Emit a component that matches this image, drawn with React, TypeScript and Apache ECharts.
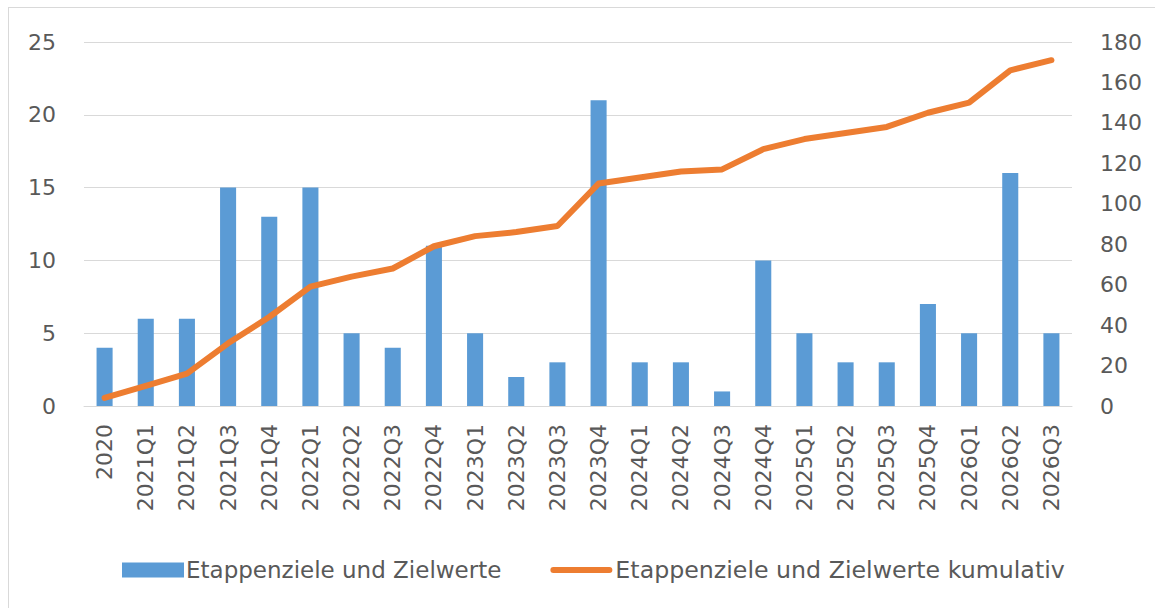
import React, { useEffect, useRef } from "react";
import * as echarts from "echarts";

const categories = [
  "2020", "2021Q1", "2021Q2", "2021Q3", "2021Q4", "2022Q1", "2022Q2", "2022Q3",
  "2022Q4", "2023Q1", "2023Q2", "2023Q3", "2023Q4", "2024Q1", "2024Q2", "2024Q3",
  "2024Q4", "2025Q1", "2025Q2", "2025Q3", "2025Q4", "2026Q1", "2026Q2", "2026Q3",
];
const barValues = [4, 6, 6, 15, 13, 15, 5, 4, 11, 5, 2, 3, 21, 3, 3, 1, 10, 5, 3, 3, 7, 5, 16, 5];
const cumulativeValues = [4, 10, 16, 31, 44, 59, 64, 68, 79, 84, 86, 89, 110, 113, 116, 117, 127, 132, 135, 138, 145, 150, 166, 171];
const barName = "Etappenziele und Zielwerte";
const lineName = "Etappenziele und Zielwerte kumulativ";

const FONT = "'DejaVu Sans', sans-serif";
const TXT = "#595959";
const LINE_ICON =
  "path://M0,0L0.05,0L0.05,0.05Z M3,4.5L59,4.5A3,3 0 0 1 59,10.5L3,10.5A3,3 0 0 1 3,4.5Z M62,15L61.95,15L61.95,14.95Z";

export default function App() {
  const ref = useRef<HTMLDivElement>(null);
  useEffect(() => {
    const chart = echarts.init(ref.current!, null, { renderer: "svg" });
    chart.setOption({
      animation: false,
      textStyle: { fontFamily: FONT },
      grid: { left: 84, right: 83, top: 42, bottom: 202, containLabel: false },
      legend: {
        top: 553,
        left: 117,
        itemGap: 49,
        itemWidth: 62,
        itemHeight: 15,
        textStyle: { fontSize: 23, color: TXT, fontFamily: FONT, padding: [0, 0, 0, -3] },
        data: [
          { name: barName, icon: "rect" },
          {
            name: lineName,
            icon: LINE_ICON,
            itemStyle: { color: "#ED7D31" },
            textStyle: { fontSize: 23.7, color: TXT, fontFamily: FONT, padding: [0, 0, 0, -2] },
          },
        ],
      },
      xAxis: {
        type: "category",
        data: categories,
        axisLine: { show: true, lineStyle: { color: "#D9D9D9", width: 1 } },
        axisTick: { show: false },
        axisLabel: { rotate: 90, fontSize: 22, color: TXT, margin: 18, interval: 0 },
      },
      yAxis: [
        {
          type: "value",
          min: 0,
          max: 25,
          interval: 5,
          axisLine: { show: false },
          axisTick: { show: false },
          splitLine: { lineStyle: { color: "#D9D9D9", width: 1 } },
          axisLabel: { fontSize: 22, color: TXT, margin: 28 },
        },
        {
          type: "value",
          min: 0,
          max: 180,
          interval: 20,
          axisLine: { show: false },
          axisTick: { show: false },
          splitLine: { show: false },
          axisLabel: { fontSize: 22, color: TXT, margin: 28 },
        },
      ],
      series: [
        {
          name: barName,
          type: "bar",
          data: barValues,
          barWidth: "39%",
          itemStyle: { color: "#5B9BD5" },
          yAxisIndex: 0,
        },
        {
          name: lineName,
          type: "line",
          data: cumulativeValues,
          yAxisIndex: 1,
          symbol: "none",
          lineStyle: { color: "#ED7D31", width: 6, cap: "round", join: "round" },
          itemStyle: { color: "#ED7D31" },
        },
      ],
    });
    return () => chart.dispose();
  }, []);
  return (
    <div style={{ position: "fixed", left: 0, top: 0, width: 1155, height: 608, background: "#fff" }}>
      <div
        style={{
          position: "absolute",
          left: 8,
          top: 7,
          right: -2,
          bottom: -2,
          borderTop: "1px solid #D9D9D9",
          borderLeft: "1px solid #D9D9D9",
        }}
      />
      <div ref={ref} style={{ position: "absolute", left: 0, top: 0, width: 1155, height: 608 }} />
    </div>
  );
}
